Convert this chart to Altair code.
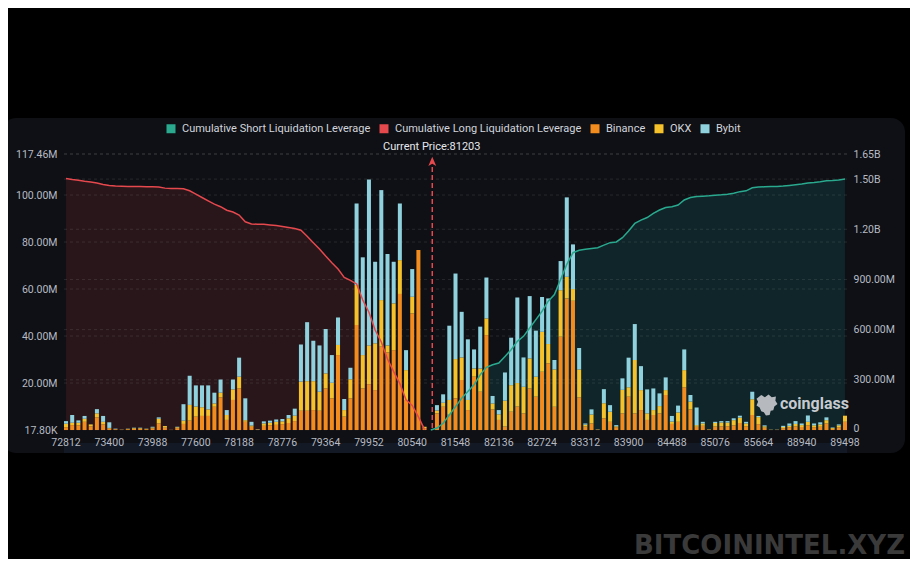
import altair as alt
import pandas as pd

# ---------------- data ----------------
prices = [72812, 72896, 72980, 73064, 73148, 73232, 73316, 73400,
          73484, 73568, 73652, 73736, 73820, 73904, 73988,
          74072, 74156, 77264, 77348, 77432, 77516, 77600,
          77684, 77768, 77852, 77936, 78020, 78104, 78188,
          78272, 78356, 78440, 78524, 78608, 78692, 78776,
          78860, 78944, 79028, 79112, 79196, 79280, 79364,
          79448, 79532, 79616, 79700, 79784, 79868, 79952,
          80036, 80120, 80204, 80288, 80372, 80456, 80540,
          80624, 80708, 81212, 81296, 81380, 81464, 81548,
          81632, 81716, 81800, 81884, 81968, 82052, 82136,
          82220, 82304, 82388, 82472, 82556, 82640, 82724,
          82808, 82892, 82976, 83060, 83144, 83228, 83312,
          83396, 83480, 83564, 83648, 83732, 83816, 83900,
          83984, 84068, 84152, 84236, 84320, 84404, 84488,
          84572, 84656, 84740, 84824, 84908, 84992, 85076,
          85160, 85244, 85328, 85412, 85496, 85580, 85664,
          85748, 85832, 88604, 88688, 88772, 88856, 88940,
          89024, 89108, 89192, 89276, 89360, 89429, 89498]

# millions
binance = [1.2, 2.1, 2.0, 3.5, 1.6, 5.4, 2.4, 0.6, 0.3, 0.1,
           0.3, 0.5, 0.5, 0.3, 0.7, 2.8, 1.0, 0.05, 0.8, 2.6,
           4.0, 5.7, 6.0, 6.0, 9.9, 13.9, 4.3, 12.8, 17.7, 3.5,
           1.4, 0.2, 1.8, 2.0, 2.2, 2.5, 3.0, 3.8, 8.2, 8.2,
           8.5, 8.2, 17.7, 13.5, 31.9, 5.7, 13.5, 44.7, 17.7, 19.5,
           17.0, 35.5, 33.0, 34.0, 57.9, 12.8, 49.6, 76.6, 0.8, 0,
           7.1, 9.9, 6.5, 13.5, 21.3, 8.5, 22.7, 16.3, 40.4, 8.8,
           4.3, 1.5, 7.8, 10.0, 7.1, 17.7, 14.2, 24.8, 28.4, 9.9,
           39.7, 56.0, 55.0, 13.9, 1.5, 2.8, 0.2, 5.0, 3.5, 1.2,
           7.1, 14.2, 7.1, 8.5, 4.3, 6.4, 7.1, 14.9, 2.6, 3.5,
           18.2, 8.8, 1.4, 1.8, 0.2, 1.5, 1.6, 1.6, 2.0, 3.0,
           1.6, 6.4, 2.5, 1.0, 0.1, 0.1, 0.8, 1.2, 1.6, 1.3,
           2.0, 1.2, 1.4, 2.8, 0.5, 1.2, 3.5]
okx = [1.5, 1.0, 1.1, 1.3, 0.8, 1.7, 1.1, 0.3, 0.1, 0.05,
       0.2, 0.3, 0.3, 0.2, 0.4, 2.0, 0.7, 0.03, 0.4, 1.4,
       6.7, 4.3, 3.7, 2.8, 1.4, 2.0, 2.1, 4.5, 5.0, 0.7,
       0.5, 0.1, 1.0, 1.1, 1.3, 1.2, 2.0, 2.3, 12.4, 12.6,
       12.3, 8.1, 6.4, 6.6, 4.3, 2.8, 8.1, 17.0, 14.2, 16.5,
       19.9, 19.8, 3.0, 19.9, 14.4, 12.7, 7.1, 0.0, 0.6, 0,
       1.2, 1.7, 6.3, 16.7, 9.6, 4.3, 3.5, 9.9, 7.1, 2.5,
       2.4, 11.0, 11.3, 10.0, 11.3, 12.8, 8.5, 17.0, 8.2, 15.9,
       19.8, 9.2, 5.0, 11.9, 0.8, 3.8, 0.05, 6.4, 4.3, 0.4,
       10.0, 4.0, 22.7, 8.5, 2.8, 2.1, 3.1, 2.1, 1.0, 4.0,
       7.3, 3.3, 0.7, 1.0, 0.1, 1.5, 1.6, 1.6, 2.2, 2.3,
       1.2, 6.7, 3.0, 0.6, 0.05, 0.05, 0.5, 0.6, 1.0, 0.8,
       1.5, 0.8, 1.0, 1.4, 0.4, 0.8, 2.6]
bybit = [1.1, 3.3, 1.0, 1.2, 0.0, 1.8, 2.5, 2.4, 0.2, 0.05,
         0.1, 0.2, 0.2, 0.1, 0.3, 0.6, 0.0, 0.02, 0.2, 7.0,
         12.4, 9.0, 9.3, 10.2, 4.6, 5.6, 2.1, 4.2, 8.1, 9.3,
         1.6, 0.1, 0.9, 0.9, 1.0, 1.0, 1.4, 3.0, 15.8, 25.1,
         17.2, 19.7, 18.9, 11.8, 11.7, 4.7, 4.9, 34.7, 41.6, 70.6,
         34.7, 46.8, 38.9, 17.7, 24.1, 8.5, 11.8, 0.0, 0.0, 0,
         2.3, 3.6, 31.6, 36.4, 19.4, 25.8, 8.1, 17.8, 17.4, 3.2,
         1.8, 12.0, 20.2, 36.4, 12.5, 26.5, 19.6, 14.8, 19.4, 4.0,
         12.4, 33.8, 19.0, 9.1, 0.5, 2.2, 0.05, 6.0, 2.8, 0.5,
         4.9, 12.6, 15.3, 10.2, 10.2, 9.2, 5.4, 5.4, 2.4, 2.9,
         8.8, 2.8, 7.5, 0.7, 0.0, 0.5, 0.6, 0.6, 0.8, 0.8,
         0.7, 3.2, 0.5, 0.4, 0.05, 0.05, 0.5, 1.0, 1.2, 0.7,
         2.7, 0.8, 0.9, 1.2, 0.2, 0.4, 0.0]

# billions, cumulative long (prices[0..58]) and cumulative short (prices[59..126])
long_cum = [1.504, 1.498, 1.493, 1.487, 1.482, 1.476, 1.468, 1.462, 1.458, 1.457,
            1.456, 1.455, 1.455, 1.454, 1.454, 1.452, 1.446, 1.444, 1.444, 1.442,
            1.430, 1.410, 1.390, 1.370, 1.350, 1.335, 1.314, 1.303, 1.285, 1.245,
            1.232, 1.230, 1.230, 1.226, 1.222, 1.217, 1.211, 1.205, 1.194, 1.158,
            1.120, 1.082, 1.040, 1.000, 0.962, 0.912, 0.895, 0.873, 0.777, 0.704,
            0.598, 0.526, 0.424, 0.349, 0.277, 0.181, 0.147, 0.078, 0.002]
short_cum = [0.0, 0.012, 0.04, 0.09, 0.14, 0.19, 0.23, 0.27, 0.33, 0.375,
             0.39, 0.40, 0.44, 0.48, 0.53, 0.56, 0.61, 0.66, 0.71, 0.77,
             0.81, 0.90, 0.99, 1.06, 1.075, 1.08, 1.085, 1.09, 1.105, 1.12,
             1.124, 1.15, 1.19, 1.235, 1.255, 1.27, 1.295, 1.315, 1.33, 1.335,
             1.345, 1.375, 1.39, 1.396, 1.398, 1.40, 1.403, 1.406, 1.41, 1.415,
             1.425, 1.43, 1.448, 1.452, 1.454, 1.455, 1.456, 1.458, 1.462, 1.466,
             1.47, 1.476, 1.479, 1.484, 1.49, 1.492, 1.495, 1.50]

x_labels = [72812, 73400, 73988, 77600, 78188, 78776, 79364, 79952, 80540,
            81548, 82136, 82724, 83312, 83900, 84488, 85076, 85664, 88940, 89498]
left_ticks = [17800, 20000000, 40000000, 60000000, 80000000, 100000000, 117460000]
right_ticks = [0, 300000000, 600000000, 900000000, 1200000000, 1500000000, 1650000000]
current_price = 81203
current_bin = 81212

series = ["Cumulative Short Liquidation Leverage", "Cumulative Long Liquidation Leverage",
          "Binance", "OKX", "Bybit"]
palette = ["#2aa98f", "#e5484d", "#f28c1e", "#f5c22c", "#8fd1dd"]

# ---------------- tables ----------------
rows = []
for p, b, o, y in zip(prices, binance, okx, bybit):
    rows.append({"price": p, "series": "Binance", "ord": 0, "value": b * 1e6})
    rows.append({"price": p, "series": "OKX", "ord": 1, "value": o * 1e6})
    rows.append({"price": p, "series": "Bybit", "ord": 2, "value": y * 1e6})
bars_df = pd.DataFrame(rows)

n_long = len(long_cum)
long_df = pd.DataFrame({"price": prices[:n_long], "cum": [v * 1e9 for v in long_cum], "series": series[1]})
short_df = pd.DataFrame({"price": prices[n_long:], "cum": [v * 1e9 for v in short_cum], "series": series[0]})
lines_df = pd.concat([long_df, short_df], ignore_index=True)
one = pd.DataFrame({"a": [0]})

W, H = 783, 276
LABEL = "#b7bbc3"

left_fmt = ("datum.value >= 1e6 ? format(datum.value / 1e6, '.2f') + 'M' : "
            "datum.value >= 1e3 ? format(datum.value / 1e3, '.2f') + 'K' : '0'")
right_fmt = ("datum.value >= 1e9 ? format(datum.value / 1e9, '.2f') + 'B' : "
             "datum.value >= 1e6 ? format(datum.value / 1e6, '.2f') + 'M' : '0'")

x_enc = alt.X("price:O",
              scale=alt.Scale(domain=prices, paddingInner=0.35, paddingOuter=0),
              axis=alt.Axis(values=x_labels, labelAngle=0, ticks=False, domain=False, grid=False,
                            labelColor=LABEL, labelFontSize=10.5, labelPadding=7, title=None,
                            labelOverlap=False, labelFont="Roboto", zindex=1),
              title=None)
left_scale = alt.Scale(domain=[17800, 117460000], nice=False, zero=False)
right_scale = alt.Scale(domain=[0, 1650000000], nice=False)
color_scale = alt.Scale(domain=series, range=palette)

# ---------------- layers ----------------
panel = alt.Chart(one).mark_rect(color="#0e1015", cornerRadius=14).encode(
    x=alt.value(-62), x2=alt.value(841), y=alt.value(-36), y2=alt.value(299))
strip = alt.Chart(one).mark_rect(color="#131a26").encode(
    x=alt.value(0), x2=alt.value(W), y=alt.value(289), y2=alt.value(299))

red_area = alt.Chart(long_df).mark_area(color="#28161a").encode(
    x=x_enc, y=alt.Y("cum:Q", scale=right_scale, axis=None))
teal_area = alt.Chart(short_df).mark_area(color="#0f2529").encode(
    x=x_enc, y=alt.Y("cum:Q", scale=right_scale, axis=None))

left_grid = alt.Chart(pd.DataFrame({"v": left_ticks[1:]})).mark_rule(
    color="#ffffff", opacity=0.1, strokeDash=[3, 3], strokeWidth=1).encode(
    y=alt.Y("v:Q", scale=left_scale, axis=None))
right_grid = alt.Chart(pd.DataFrame({"v": right_ticks[1:]})).mark_rule(
    color="#ffffff", opacity=0.1, strokeDash=[3, 3], strokeWidth=1).encode(
    y=alt.Y("v:Q", scale=right_scale, axis=None))

bars = alt.Chart(bars_df).mark_bar().encode(
    x=x_enc,
    y=alt.Y("value:Q", stack="zero", scale=left_scale,
            axis=alt.Axis(orient="left", values=left_ticks, labelExpr=left_fmt, grid=False,
                          domain=False, ticks=False, labelColor=LABEL, labelFontSize=10.5,
                          labelPadding=7, title=None, labelFont="Roboto", zindex=1)),
    color=alt.Color("series:N", scale=color_scale,
                    legend=alt.Legend(orient="none", legendX=101.5, legendY=-31,
                                      direction="horizontal", title=None, symbolType="square",
                                      symbolSize=81, symbolStrokeWidth=0, labelFontSize=11,
                                      labelColor="#d2d5db", labelFont="Roboto", labelLimit=0,
                                      columnPadding=8, labelOffset=5.5, padding=0,
                                      zindex=1)),
    order=alt.Order("ord:Q"))

lines = alt.Chart(lines_df).mark_line(strokeWidth=1.5).encode(
    x=x_enc,
    y=alt.Y("cum:Q", scale=right_scale,
            axis=alt.Axis(orient="right", values=right_ticks, labelExpr=right_fmt, grid=False,
                          domain=False, ticks=False, labelColor=LABEL, labelFontSize=10.5,
                          labelPadding=6, title=None, labelFont="Roboto", zindex=1,
                          labelOffset={"condition": {"test": "datum.value == 0", "value": -2},
                                       "value": 0})),
    color=alt.Color("series:N", scale=color_scale, legend=None),
    detail="series:N")

cp_df = pd.DataFrame({"price": [current_bin], "label": [f"Current Price:{current_price}"]})
cp_rule = alt.Chart(cp_df).mark_rule(color="#e5484d", strokeDash=[5, 3], strokeWidth=1.5,
                                     xOffset=1.5).encode(
    x=x_enc, y=alt.value(13), y2=alt.value(H))
cp_arrow = alt.Chart(cp_df).mark_point(shape="M0,-1L0.75,0.75L0,0.35L-0.75,0.75Z", filled=True,
                                       color="#e5484d", size=110, opacity=1, xOffset=1.5).encode(
    x=x_enc, y=alt.value(8))
cp_text = alt.Chart(cp_df).mark_text(fontSize=11, color="#e6e8ec", font="Roboto",
                                     xOffset=1, baseline="middle").encode(
    x=x_enc, y=alt.value(-7), text="label:N")

lion = ("M-0.55,-0.95L-0.2,-0.75L0.15,-1L0.45,-0.75L0.85,-0.8L0.8,-0.4L1,-0.1L0.7,0.15"
        "L0.6,0.5L0.35,0.55L0.25,0.95L-0.1,1L-0.3,0.7L-0.55,0.6L-0.7,0.25L-1,0.05"
        "L-0.85,-0.3L-1,-0.6Z")
cg_logo = alt.Chart(one).mark_point(shape=lion, filled=True, color="#b6babf", size=440,
                                    opacity=1).encode(x=alt.value(703), y=alt.value(251))
cg_text = alt.Chart(one).mark_text(text="coinglass", fontSize=16, fontWeight="bold",
                                   font="Roboto", color="#c6cad0", align="left",
                                   baseline="middle").encode(x=alt.value(716), y=alt.value(250))
wm = alt.Chart(one).mark_text(text="BITCOININTEL.XYZ", font="DejaVu Sans", fontWeight="bold",
                              fontSize=26, color="#3a3a3a", align="right",
                              baseline="middle").encode(x=alt.value(841), y=alt.value(392))

chart = alt.layer(
    panel, strip, red_area, teal_area, left_grid, right_grid, bars, lines,
    cp_rule, cp_arrow, cp_text, cg_logo, cg_text, wm
).resolve_scale(y="independent").properties(
    width=W, height=H,
    padding={"left": 56, "top": 146, "right": 63, "bottom": 129},
    autosize=alt.AutoSizeParams(type="none"),
    background="#000000",
    usermeta={"embedOptions": {"defaultStyle": "html,body{background:#000;}"}},
).configure(font="Roboto").configure_view(stroke=None)

chart.save("out.html", embed_options={"renderer": "svg", "actions": False})
